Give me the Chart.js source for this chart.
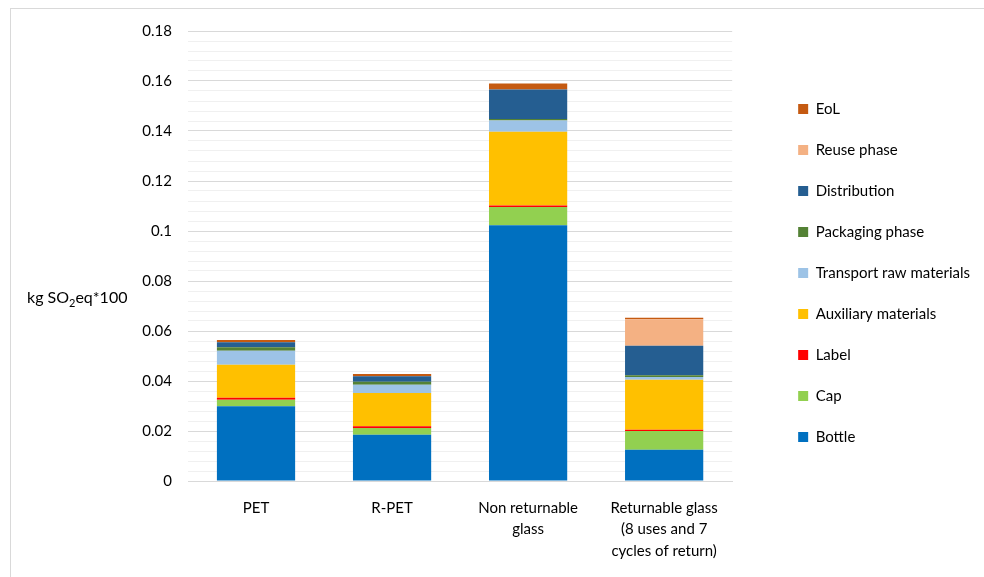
<!DOCTYPE html>
<html>
<head>
<meta charset="utf-8">
<script src="https://cdn.jsdelivr.net/npm/chart.js@4.4.1/dist/chart.umd.min.js"></script>
<style>
  html, body { margin: 0; padding: 0; background: #fff; }
  #wrap { position: relative; width: 984px; height: 577px; }
  #frame { position: absolute; left: 10px; top: 8px; width: 980px; height: 580px; border: 1px solid #d9d9d9; box-sizing: border-box; }
  canvas { position: absolute; left: 0; top: 0; }
</style>
</head>
<body>
<div id="wrap">
  <div id="frame"></div>
  <canvas id="chart" width="984" height="577"></canvas>
</div>
<script>
// categories and values (kg SO2eq*100)
const categories = ['PET', 'R-PET', ['Non returnable', 'glass'], ['Returnable glass', '(8 uses and 7', 'cycles of return)']];
const bottle       = [0.0299, 0.0185, 0.1023, 0.0125];
const cap          = [0.0026, 0.0027, 0.0073, 0.0075];
const label        = [0.0008, 0.0007, 0.0006, 0.0005];
const auxiliary    = [0.0132, 0.0133, 0.0295, 0.0200];
const transportRaw = [0.0056, 0.0033, 0.0045, 0.0011];
const packaging    = [0.0014, 0.0012, 0.0006, 0.0007];
const distribution = [0.0020, 0.0022, 0.0118, 0.0118];
const reuse        = [0, 0, 0, 0.0106];
const eol          = [0.0009, 0.0009, 0.0024, 0.0006];

const fontFam = 'Lato, "Noto Sans", sans-serif';

// y axis title, horizontal, with subscript 2
const yTitle = {
    id: 'yTitle',
    afterDraw(chart) {
        const c = chart.ctx;
        c.save();
        c.fillStyle = '#000';
        c.textBaseline = 'alphabetic';
        let x = 27, y = 303;
        c.font = '16px ' + fontFam;
        c.fillText('kg SO', x, y);
        x += c.measureText('kg SO').width;
        c.font = '11px ' + fontFam;
        c.fillText('2', x, y + 4);
        x += c.measureText('2').width;
        c.font = '16px ' + fontFam;
        c.fillText('eq*100', x, y);
        c.restore();
    }
};

// leave a gap between the plot and the legend, and lift the legend a bit
const legendGap = {
    id: 'legendGap',
    afterInit(chart) {
        const lg = chart.legend;
        const fit = lg.fit.bind(lg);
        lg.fit = function () { fit(); this.width += 40; };
    },
    afterLayout(chart) {
        const lg = chart.legend;
        lg.left += 40;
        lg.top -= 31;
        lg.bottom -= 31;
    }
};

const ds = (name, data, color) => ({ label: name, data: data, backgroundColor: color, borderWidth: 0 });

new Chart(document.getElementById('chart'), {
    type: 'bar',
    data: {
        labels: categories,
        datasets: [
            ds('Bottle', bottle, '#0070C0'),
            ds('Cap', cap, '#92D050'),
            ds('Label', label, '#FF0000'),
            ds('Auxiliary materials', auxiliary, '#FFC000'),
            ds('Transport raw materials', transportRaw, '#9DC3E6'),
            ds('Packaging phase', packaging, '#548235'),
            ds('Distribution', distribution, '#255E91'),
            ds('Reuse phase', reuse, '#F4B183'),
            ds('EoL', eol, '#C55A11')
        ]
    },
    options: {
        responsive: false,
        animation: false,
        layout: { padding: { top: 31, right: 4, bottom: 0, left: 0 } },
        datasets: { bar: { categoryPercentage: 1, barPercentage: 0.575 } },
        plugins: {
            tooltip: { enabled: false },
            legend: {
                position: 'right',
                reverse: true,
                labels: {
                    boxWidth: 10, boxHeight: 10, padding: 26,
                    color: '#000',
                    font: { family: fontFam, size: 15 }
                }
            }
        },
        scales: {
            x: {
                stacked: true,
                grid: { display: false },
                border: { display: true, color: '#d9d9d9' },
                ticks: { color: '#000', padding: 8, font: { family: fontFam, size: 15, lineHeight: 1.45 }, maxRotation: 0 },
                afterFit(s) { s.height = 96; }
            },
            y: {
                stacked: true,
                min: 0, max: 0.18,
                border: { display: false },
                grid: {
                    drawTicks: false,
                    color: ctx => (Math.round(ctx.tick.value * 1000) % 20 === 0 ? '#d9d9d9' : '#f0f0f0')
                },
                ticks: {
                    stepSize: 0.004,
                    maxTicksLimit: 100,
                    autoSkip: false,
                    padding: 16,
                    color: '#000',
                    font: { family: fontFam, size: 15 },
                    callback: v => {
                        const k = Math.round(v * 1000);
                        return k % 20 === 0 ? String(k / 1000) : '';
                    }
                },
                afterFit(s) { s.width = 188; }
            }
        }
    },
    plugins: [yTitle, legendGap]
});
</script>
</body>
</html>
